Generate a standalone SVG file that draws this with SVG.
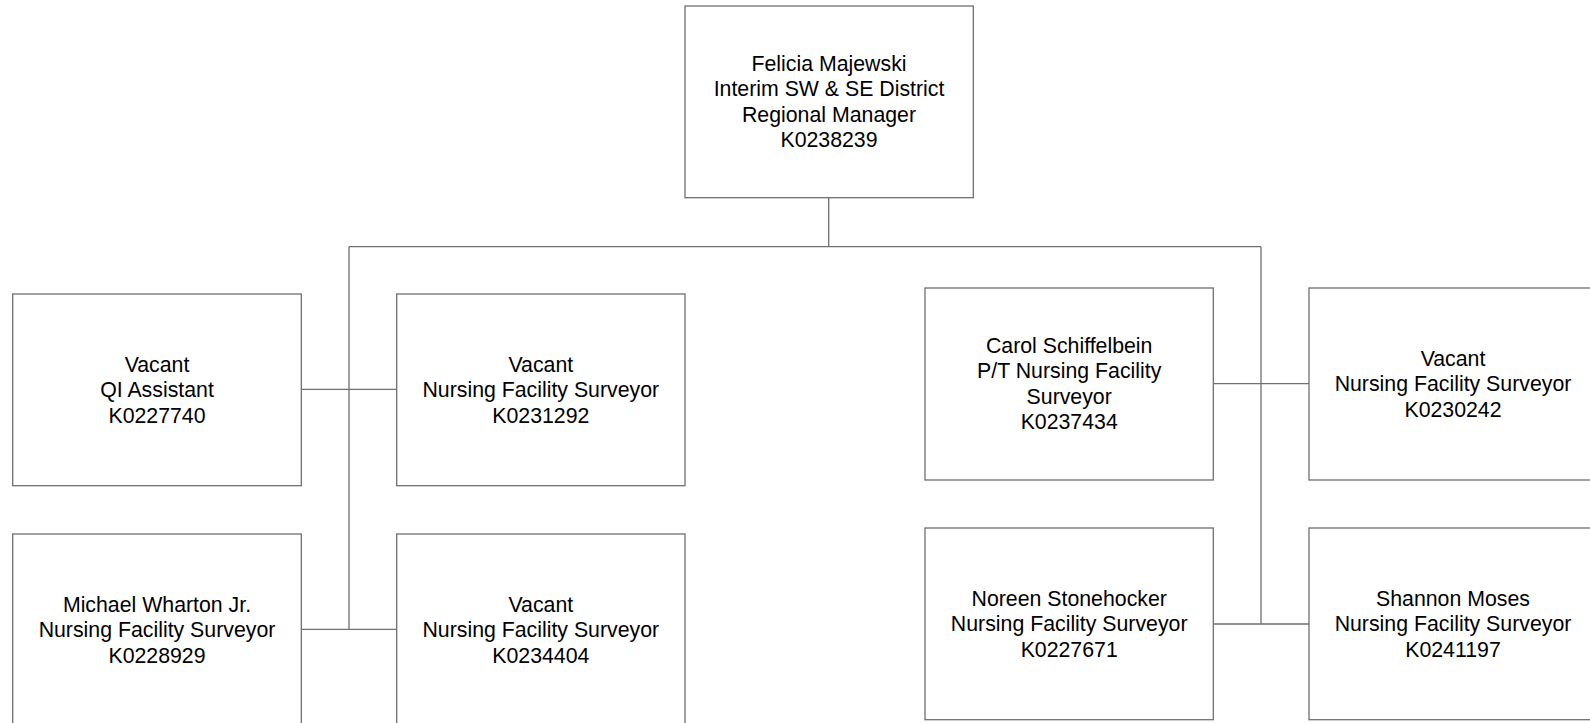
<svg xmlns="http://www.w3.org/2000/svg" width="1590" height="723" viewBox="0 0 1590 723">
  <style>
    .box { fill: #ffffff; stroke: #6f6f6f; stroke-width: 1.3; }
    .wire { fill: none; stroke: #6f6f6f; stroke-width: 1.3; }
    .lbl { font-family: "Liberation Sans", Arial, sans-serif; font-size: 21.3px; fill: #000000; text-anchor: middle; }
  </style>
  <rect x="0" y="0" width="1590" height="723" fill="#ffffff"/>

  <g id="connectors">
    <line class="wire" x1="828.7" y1="197.7" x2="828.7" y2="246.7"/>
    <line class="wire" x1="349" y1="246.7" x2="1261" y2="246.7"/>
    <line class="wire" x1="349" y1="246.7" x2="349" y2="629.3"/>
    <line class="wire" x1="301.3" y1="389.3" x2="396.7" y2="389.3"/>
    <line class="wire" x1="301.3" y1="629.3" x2="396.7" y2="629.3"/>
    <line class="wire" x1="1261" y1="246.7" x2="1261" y2="624"/>
    <line class="wire" x1="1213.3" y1="383.7" x2="1309" y2="383.7"/>
    <line class="wire" x1="1213.3" y1="624" x2="1309" y2="624"/>
  </g>

  <g id="node-majewski">
    <rect class="box" x="685" y="6" width="288.3" height="191.7"/>
    <text class="lbl" x="829" y="70.5">Felicia Majewski</text>
    <text class="lbl" x="829" y="96.1">Interim SW &amp; SE District</text>
    <text class="lbl" x="829" y="121.7">Regional Manager</text>
    <text class="lbl" x="829" y="147.3">K0238239</text>
  </g>

  <g id="node-qi-assistant">
    <rect class="box" x="12.7" y="294" width="288.6" height="191.7"/>
    <text class="lbl" x="157" y="371.7">Vacant</text>
    <text class="lbl" x="157" y="397.3">QI Assistant</text>
    <text class="lbl" x="157" y="422.9">K0227740</text>
  </g>

  <g id="node-k0231292">
    <rect class="box" x="396.7" y="294" width="288.3" height="191.7"/>
    <text class="lbl" x="540.8" y="371.7">Vacant</text>
    <text class="lbl" x="540.8" y="397.3">Nursing Facility Surveyor</text>
    <text class="lbl" x="540.8" y="422.9">K0231292</text>
  </g>

  <g id="node-wharton">
    <rect class="box" x="12.7" y="534" width="288.6" height="192"/>
    <text class="lbl" x="157" y="611.7">Michael Wharton Jr.</text>
    <text class="lbl" x="157" y="637.3">Nursing Facility Surveyor</text>
    <text class="lbl" x="157" y="662.9">K0228929</text>
  </g>

  <g id="node-k0234404">
    <rect class="box" x="396.7" y="534" width="288.3" height="192"/>
    <text class="lbl" x="540.8" y="611.7">Vacant</text>
    <text class="lbl" x="540.8" y="637.3">Nursing Facility Surveyor</text>
    <text class="lbl" x="540.8" y="662.9">K0234404</text>
  </g>

  <g id="node-schiffelbein">
    <rect class="box" x="925" y="288" width="288.3" height="192"/>
    <text class="lbl" x="1069.2" y="352.5">Carol Schiffelbein</text>
    <text class="lbl" x="1069.2" y="378.1">P/T Nursing Facility</text>
    <text class="lbl" x="1069.2" y="403.7">Surveyor</text>
    <text class="lbl" x="1069.2" y="429.3">K0237434</text>
  </g>

  <g id="node-k0230242">
    <rect class="box" x="1309" y="288" width="288.3" height="192"/>
    <text class="lbl" x="1453" y="365.5">Vacant</text>
    <text class="lbl" x="1453" y="391.1">Nursing Facility Surveyor</text>
    <text class="lbl" x="1453" y="416.7">K0230242</text>
  </g>

  <g id="node-stonehocker">
    <rect class="box" x="925" y="528" width="288.3" height="191.7"/>
    <text class="lbl" x="1069.2" y="605.8">Noreen Stonehocker</text>
    <text class="lbl" x="1069.2" y="631.4">Nursing Facility Surveyor</text>
    <text class="lbl" x="1069.2" y="657">K0227671</text>
  </g>

  <g id="node-moses">
    <rect class="box" x="1309" y="528" width="288.3" height="191.7"/>
    <text class="lbl" x="1453" y="605.8">Shannon Moses</text>
    <text class="lbl" x="1453" y="631.4">Nursing Facility Surveyor</text>
    <text class="lbl" x="1453" y="657">K0241197</text>
  </g>
</svg>
